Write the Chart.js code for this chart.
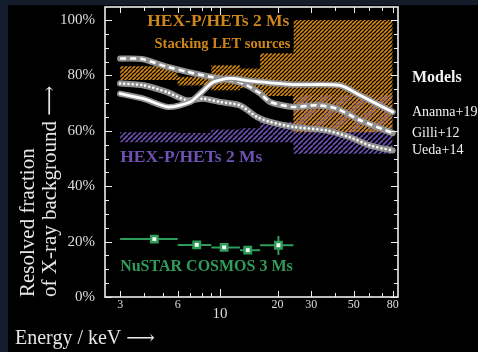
<!DOCTYPE html>
<html>
<head>
<meta charset="utf-8">
<script src="https://cdn.jsdelivr.net/npm/chart.js@4.4.1/dist/chart.umd.min.js"></script>
<style>
html, body { margin: 0; padding: 0; background: #151c2c; }
body { width: 478px; height: 352px; overflow: hidden; position: relative; }
#wrap { position: absolute; left: 8px; top: 5px; width: 470px; height: 347px; background: #000; }
</style>
</head>
<body>
<div id="wrap"><canvas id="chart" width="470" height="347"></canvas></div>
<script>

// energy bins (keV) shared by the HEX-P bands and the NuSTAR points
var binEdges = [3, 6, 9, 12.7, 16.2, 24.2, 80];

// HEX-P/HETs 2 Ms, stacking LET sources (orange band, % resolved)
var letTop = [83.3, 79.5, 83.7, 82.5, 90, 100];
var letBottom = [78.3, 76.4, 74.6, 75.4, 72.6, 59.5];

// HEX-P/HETs 2 Ms (purple band)
var hetTop = [59.5, 59.2, 60.5, 60.9, 63.2, 72.8];
var hetBottom = [55.9, 55.9, 55.9, 55.9, 55.9, 51.7];

// NuSTAR COSMOS 3 Ms
var nuEnergy = [4.53, 7.55, 10.5, 13.96, 20.2];
var nuFrac = [20.9, 18.8, 17.9, 16.9, 18.7];
var nuLow = [3, 6, 9, 12.7, 16.2];
var nuHigh = [6, 9, 12.7, 16.2, 24.2];
var nuFracLow = [20.5, 18.4, 17.5, 16.5, 15.2];
var nuFracHigh = [21.3, 19.2, 18.3, 17.3, 22.0];

// model curves
var anannaE = [3, 3.98, 5.37, 6.97, 7.86, 9.23, 11.28, 14.3, 24.2, 42.4, 54, 80];
var anannaF = [73.4, 71.6, 68.6, 70.4, 73.4, 77.6, 78.9, 78.0, 76.7, 76.4, 72.8, 66.8];
var gilliE = [3, 3.9, 5.27, 6.7, 8.87, 10.84, 13.2, 16.2, 18.3, 24.2, 32.1, 40.8, 54, 80];
var gilliF = [86.1, 85.9, 83.1, 81.3, 79.5, 78.5, 77.1, 73.5, 70.4, 68.6, 69.2, 68.0, 63.8, 59.2];
var uedaE = [3, 3.98, 5.27, 6.7, 8.15, 10.0, 12.7, 15.6, 18.3, 24.2, 36.2, 47.7, 60.9, 80];
var uedaF = [77.1, 76.4, 74.0, 71.0, 71.6, 70.4, 69.2, 65.0, 63.2, 61.4, 60.1, 57.7, 54.7, 52.9];

var modelNames = ['Ananna+19', 'Gilli+12', 'Ueda+14'];

// tick labels
var xTickValues = [3, 4, 5, 6, 7, 8, 9, 10, 20, 30, 40, 50, 60, 70, 80];
var xTickLabels = [3, 6, 10, 20, 30, 50, 80];
var yTickValues = [];
for (var t = 0; t <= 100; t += 5) { yTickValues.push(t); }

var serif = '"Liberation Serif", "DejaVu Serif", serif';
var orange = '#cf8619';
var purple = '#6d52b4';
var green = '#2f9c5a';

function pts(xs, ys) { //pair up x and y arrays
    return ys.map(function (y, i) { return { x: xs[i], y: y }; });
}

function steps(vals) { //stepped band edge over the bins
    var p = pts(binEdges, vals);
    p.push({ x: binEdges[binEdges.length - 1], y: vals[vals.length - 1] });
    return p;
}

function errorBars() { //horizontal and vertical error bars, broken by gaps
    var p = [];
    for (var i = 0; i < nuEnergy.length; i++) {
        p.push({ x: nuLow[i], y: nuFrac[i] }, { x: nuHigh[i], y: nuFrac[i] }, { x: nuHigh[i], y: null });
        p.push({ x: nuEnergy[i], y: nuFracLow[i] }, { x: nuEnergy[i], y: nuFracHigh[i] }, { x: nuHigh[i], y: null });
    }
    return p;
}

var ctx = document.getElementById('chart').getContext('2d');

function hatch(color, size, width) { //diagonal stripe pattern
    var c = document.createElement('canvas');
    c.width = size; c.height = size;
    var g = c.getContext('2d');
    g.strokeStyle = color;
    g.lineWidth = width;
    g.beginPath();
    for (var k = -1; k <= 1; k++) {
        g.moveTo(k * size, size);
        g.lineTo(k * size + size, 0);
    }
    g.stroke();
    return ctx.createPattern(c, 'repeat');
}

function modelLine(xs, ys, color, width, dash, cap) {
    return {
        data: pts(xs, ys), borderColor: color, borderWidth: width, borderDash: dash,
        borderCapStyle: cap, pointRadius: 0, tension: 0.25, fill: false
    };
}

var datasets = [
    modelLine(anannaE, anannaF, '#ffffff', 2.8, [], 'round'),
    modelLine(anannaE, anannaF, '#909090', 6.2, [], 'round'),
    modelLine(gilliE, gilliF, '#ffffff', 2.6, [6, 4], 'butt'),
    modelLine(gilliE, gilliF, '#909090', 6.2, [], 'round'),
    modelLine(uedaE, uedaF, '#ffffff', 2.6, [0, 4.2], 'round'),
    modelLine(uedaE, uedaF, '#909090', 6.2, [], 'round'),
    { //NuSTAR markers
        data: pts(nuEnergy, nuFrac), showLine: false, pointStyle: 'rect', pointRadius: 4.5,
        pointBackgroundColor: '#ffffff', pointBorderColor: green, pointBorderWidth: 2.5
    },
    { //NuSTAR error bars
        data: errorBars(), borderColor: green, borderWidth: 2, pointRadius: 0, spanGaps: false
    },
    { data: steps(letTop), stepped: true, borderWidth: 0, pointRadius: 0, fill: false },
    { data: steps(letBottom), stepped: true, borderWidth: 0, pointRadius: 0, fill: '-1', backgroundColor: hatch(orange, 4, 1.7) },
    { data: steps(hetTop), stepped: true, borderWidth: 0, pointRadius: 0, fill: false },
    { data: steps(hetBottom), stepped: true, borderWidth: 0, pointRadius: 0, fill: '-1', backgroundColor: hatch(purple, 5, 1.6) }
];

// text labels, drawn at data positions
var labelsPlugin = {
    id: 'labels',
    afterDatasetsDraw: function (chart) {
        var c = chart.ctx, xs = chart.scales.x, ys = chart.scales.y, a = chart.chartArea;
        c.save();
        var bx0 = xs.getPixelForValue(4.0), bx1 = xs.getPixelForValue(24.2);
        var by0 = ys.getPixelForValue(103.5), by1 = ys.getPixelForValue(88);
        c.fillStyle = '#000';
        c.fillRect(bx0, by0, bx1 - bx0, by1 - by0);
        c.textBaseline = 'middle';
        c.textAlign = 'right';
        c.fillStyle = orange;
        c.font = 'bold 17.5px ' + serif;
        c.fillText('HEX-P/HETs 2 Ms', bx1 - 4, ys.getPixelForValue(99.3));
        c.font = 'bold 14.5px ' + serif;
        c.fillText('Stacking LET sources', bx1 - 3, ys.getPixelForValue(91.3));
        c.textAlign = 'left';
        c.fillStyle = purple;
        c.font = 'bold 17.5px ' + serif;
        c.fillText('HEX-P/HETs 2 Ms', xs.getPixelForValue(3), ys.getPixelForValue(50.4));
        c.fillStyle = green;
        c.font = 'bold 16px ' + serif;
        c.fillText('NuSTAR COSMOS 3 Ms', xs.getPixelForValue(3), ys.getPixelForValue(10.9));
        c.fillStyle = '#f2f2f2';
        c.font = 'bold 16px ' + serif;
        c.fillText('Models', a.right + 14, ys.getPixelForValue(79));
        c.font = '14px ' + serif;
        var ends = [anannaF, gilliF, uedaF];
        for (var i = 0; i < modelNames.length; i++) {
            c.fillText(modelNames[i], a.right + 14, ys.getPixelForValue(ends[i][ends[i].length - 1]));
        }
        c.restore();
    }
};

// white frame with inward ticks on all four sides
var framePlugin = {
    id: 'frame',
    afterDatasetsDraw: function (chart) {
        var c = chart.ctx, xs = chart.scales.x, ys = chart.scales.y, a = chart.chartArea;
        c.save();
        c.strokeStyle = '#eeeeee';
        c.lineWidth = 1;
        c.beginPath();
        xs.ticks.forEach(function (tk) {
            var px = Math.round(xs.getPixelForValue(tk.value)) + 0.5;
            var len = tk.value === 10 ? 8 : (xTickLabels.indexOf(tk.value) >= 0 ? 6 : 4);
            c.moveTo(px, a.bottom); c.lineTo(px, a.bottom - len);
            c.moveTo(px, a.top); c.lineTo(px, a.top + len);
        });
        ys.ticks.forEach(function (tk) {
            var py = Math.round(ys.getPixelForValue(tk.value)) + 0.5;
            var len = tk.value % 20 === 0 ? 7 : 4;
            c.moveTo(a.left, py); c.lineTo(a.left + len, py);
            c.moveTo(a.right, py); c.lineTo(a.right - len, py);
        });
        c.stroke();
        c.lineWidth = 1.6;
        c.strokeRect(a.left, a.top, a.right - a.left, a.bottom - a.top);
        c.restore();
    }
};

new Chart(ctx, {
    type: 'line',
    data: { datasets: datasets },
    options: {
        responsive: false,
        animation: false,
        layout: { autoPadding: false, padding: { left: 7, right: 80, top: 2, bottom: 0 } },
        plugins: {
            legend: { display: false },
            tooltip: { enabled: false },
            title: {
                display: true, position: 'bottom', align: 'start', text: 'Energy / keV \u27F6',
                color: '#e6e6e6', font: { family: serif, size: 20, weight: 'normal', lineHeight: 1.2 },
                padding: { top: 0, bottom: 1 }
            }
        },
        scales: {
            x: {
                type: 'logarithmic', min: 2.5, max: 85.3,
                grid: { display: false, drawTicks: false }, border: { display: false },
                afterBuildTicks: function (s) { s.ticks = xTickValues.map(function (v) { return { value: v }; }); },
                afterFit: function (s) { s.height = 30; s.paddingLeft = 0; s.paddingRight = 0; },
                ticks: {
                    autoSkip: false, maxRotation: 0, color: '#dddddd', padding: 1,
                    font: function (c) {
                        if (c.tick && c.tick.value === 10) return { family: serif, size: 15, lineHeight: 0.7 };
                        return { family: serif, size: 12, lineHeight: 1.2 };
                    },
                    callback: function (v) {
                        if (v === 10) return ['', '10'];
                        return xTickLabels.indexOf(v) >= 0 ? String(v) : '';
                    }
                }
            },
            y: {
                min: 0, max: 104.7,
                grid: { display: false, drawTicks: false }, border: { display: false },
                afterBuildTicks: function (s) { s.ticks = yTickValues.map(function (v) { return { value: v }; }); },
                afterFit: function (s) { s.width = 90; s.paddingTop = 0; s.paddingBottom = 0; },
                ticks: {
                    color: '#dddddd', padding: 10, font: { family: serif, size: 15, lineHeight: 0.2 },
                    callback: function (v) { return v % 20 === 0 ? v + '%' : ''; }
                },
                title: {
                    display: true, align: 'start', text: ['Resolved fraction', 'of X-ray background \u27F6'],
                    color: '#e6e6e6', font: { family: serif, size: 21, lineHeight: 1.05 },
                    padding: { top: 2, bottom: 0 }
                }
            }
        }
    },
    plugins: [labelsPlugin, framePlugin]
});
</script>
</body>
</html>
